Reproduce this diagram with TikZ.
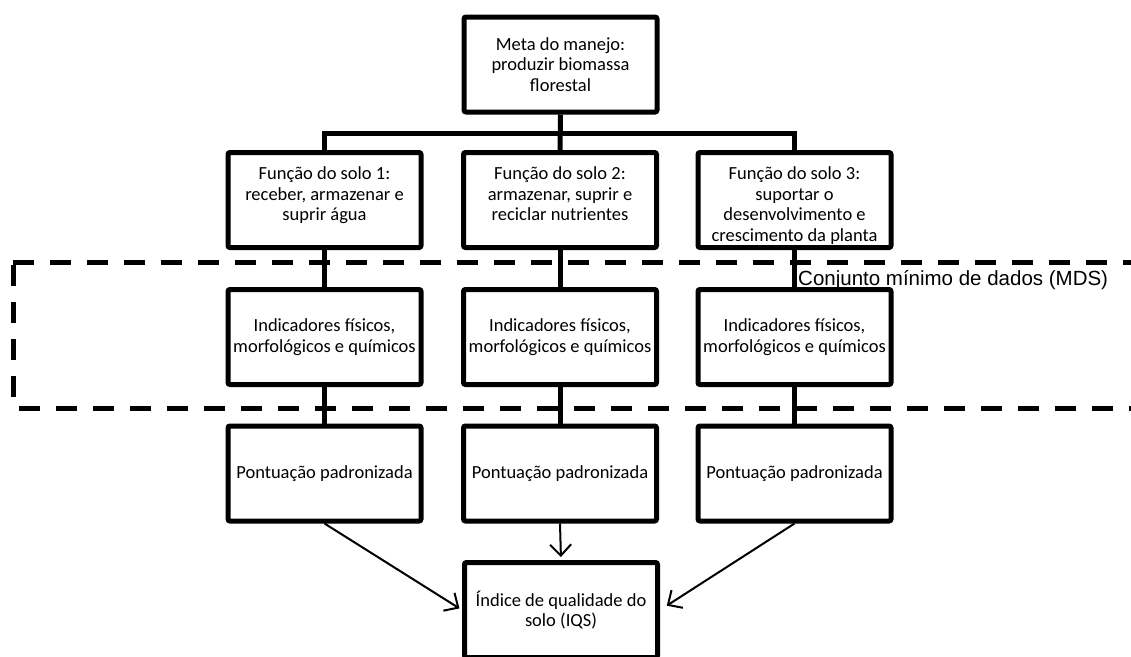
\documentclass[tikz,border=0pt]{standalone}
\usepackage{fontspec}
\setmainfont{Carlito}
\newfontfamily\mdsfont{Liberation Sans}
\usetikzlibrary{arrows.meta}
\newcommand{\boxfont}{\fontsize{18.5pt}{20.5pt}\selectfont}
\newcommand{\toptext}[1]{\parbox[c][66pt][t]{186pt}{\centering #1}}
\tikzset{
box/.style={
	rectangle,
	rounded corners=2pt,
	minimum width=193pt,
	minimum height=95pt,
	text centered,
	align=center,
	draw=black,
	line width=5pt,
	fill=white,
	inner sep=2pt,
	font=\boxfont
},
link/.style={
	draw=black,
	line width=5pt,
	line join=miter
},
arrow/.style={
	->,
	>={Straight Barb[length=11pt,width=21pt]},
	draw=black,
	line width=2pt,
	shorten >=3pt
},
mdsframe/.style={
	draw=black,
	line width=5pt,
	dash pattern=on 21pt off 16pt,
	rounded corners=3pt
}
}
\begin{document}
\begin{tikzpicture}[x=1pt, y=-1pt]
\useasboundingbox (0,0) rectangle (1131,656);
% ===== Minimum data set frame (open on the right) =====
\draw [mdsframe] (13,262) -- (1150,262);
\draw [mdsframe] (1150,408) -- (13,408) -- (13,262);
% ===== Goal and soil functions =====
\node (meta) [box] at (560.5, 64.5) {Meta do manejo:\\produzir biomassa\\florestal};
\node (funcA) [box] at (324.5, 200) {\toptext{Função do solo 1:\\receber, armazenar e\\suprir água}};
\node (funcB) [box] at (560, 200)   {\toptext{Função do solo 2:\\armazenar, suprir e\\reciclar nutrientes}};
\node (funcC) [box] at (794.5, 200) {\toptext{Função do solo 3:\\suportar o\\desenvolvimento e\\crescimento da planta}};
% ===== Indicators =====
\node (indA) [box] at (324.5, 337) {Indicadores físicos,\\morfológicos e químicos};
\node (indB) [box] at (560, 337)   {Indicadores físicos,\\morfológicos e químicos};
\node (indC) [box] at (794.5, 337) {Indicadores físicos,\\morfológicos e químicos};
% ===== Scores =====
\node (scoreA) [box] at (324.5, 473.5) {Pontuação padronizada};
\node (scoreB) [box] at (560, 473.5)   {Pontuação padronizada};
\node (scoreC) [box] at (794.5, 473.5) {Pontuação padronizada};
% ===== Index =====
\node (iqs) [box] at (561, 610) {Índice de qualidade do\\solo (IQS)};
\node (mdslabel) [anchor=base west, inner sep=0pt, font=\mdsfont\fontsize{20.5pt}{24pt}\selectfont] at (798, 285) {Conjunto mínimo de dados (MDS)};
% ===== Connectors =====
\coordinate (bus) at (560, 133);
\draw [link] (meta) -- (funcB);
\draw [link] (funcA.north) -- (funcA.north |- bus) -- (funcC.north |- bus) -- (funcC.north);
\draw [link] (funcA) -- (indA);
\draw [link] (funcB) -- (indB);
\draw [link] (funcC) -- (indC);
\draw [link] (indA) -- (scoreA);
\draw [link] (indB) -- (scoreB);
\draw [link] (indC) -- (scoreC);
% scores -> index
\draw [arrow] (scoreA.south) -- (iqs.west);
\draw [arrow] (scoreB.south) -- (iqs.north);
\draw [arrow, shorten >=8pt] (scoreC.south) -- (iqs.east);
\end{tikzpicture}
\end{document}
